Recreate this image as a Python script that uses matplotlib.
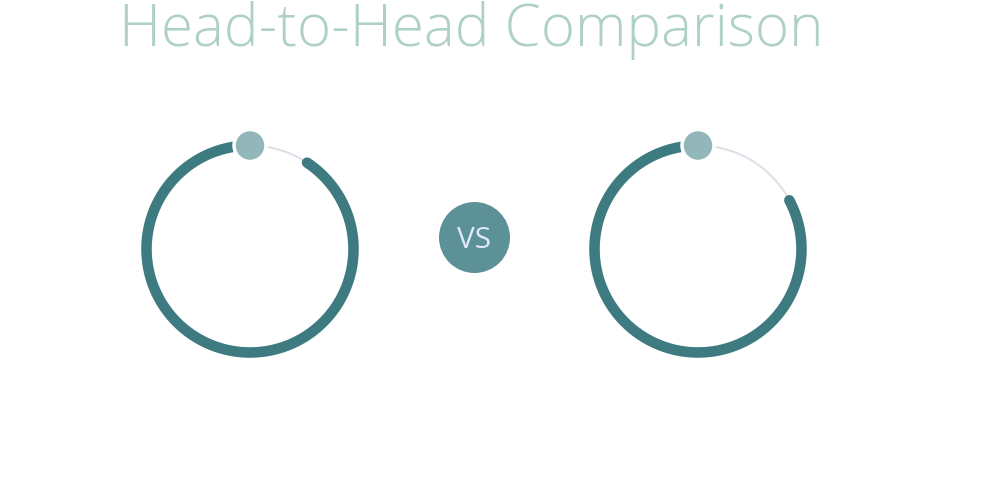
import matplotlib

matplotlib.use("Agg")
import matplotlib.pyplot as plt
import numpy as np
from matplotlib.patches import Circle

TITLE = "Head-to-Head Comparison"
VS_LABEL = "VS"
# share of the ring filled for each side
VALUES = [0.907, 0.828]

RING_COLOR = "#3d7b80"
TRACK_COLOR = "#e2dfe8"
KNOB_COLOR = "#93b6bb"
VS_FILL = "#5b9197"
VS_TEXT = "#e2e8fa"
TITLE_COLOR = "#afd0c6"

W, H = 991, 488
CENTERS = [(250, 249), (698, 249)]
R = 103.5

plt.rcParams["font.family"] = ["Open Sans", "DejaVu Sans"]

fig = plt.figure(figsize=(W / 100, H / 100), dpi=100)
ax = fig.add_axes([0, 0, 1, 1])
ax.set_xlim(0, W)
ax.set_ylim(H, 0)
ax.set_aspect("equal")
ax.axis("off")


def ring(ax, cx, cy, value):
    t = np.linspace(0, 2 * np.pi, 400)
    ax.plot(cx + R * np.sin(t), cy - R * np.cos(t), color=TRACK_COLOR,
            lw=1.5, zorder=1)
    # filled part runs counter-clockwise from the top
    t = np.linspace(0, -2 * np.pi * value, 400)
    ax.plot(cx + R * np.sin(t), cy - R * np.cos(t), color=RING_COLOR,
            lw=7.6, solid_capstyle="round", zorder=2)
    ax.add_patch(Circle((cx, cy - R), 16, facecolor=KNOB_COLOR,
                        edgecolor="white", lw=2.5, zorder=3))


for (cx, cy), v in zip(CENTERS, VALUES):
    ring(ax, cx, cy, v)

ax.add_patch(Circle((474.5, 237.5), 35.5, facecolor=VS_FILL, edgecolor="none",
                    zorder=3))
ax.text(474.5, 247.5, VS_LABEL, color=VS_TEXT, fontsize=21.5, fontweight="normal",
        ha="center", va="baseline", zorder=4)

ax.text(471.5, 46, TITLE, color=TITLE_COLOR, fontsize=42, fontweight="light",
        ha="center", va="baseline")

fig.savefig("out.png", dpi=100, facecolor="white")
